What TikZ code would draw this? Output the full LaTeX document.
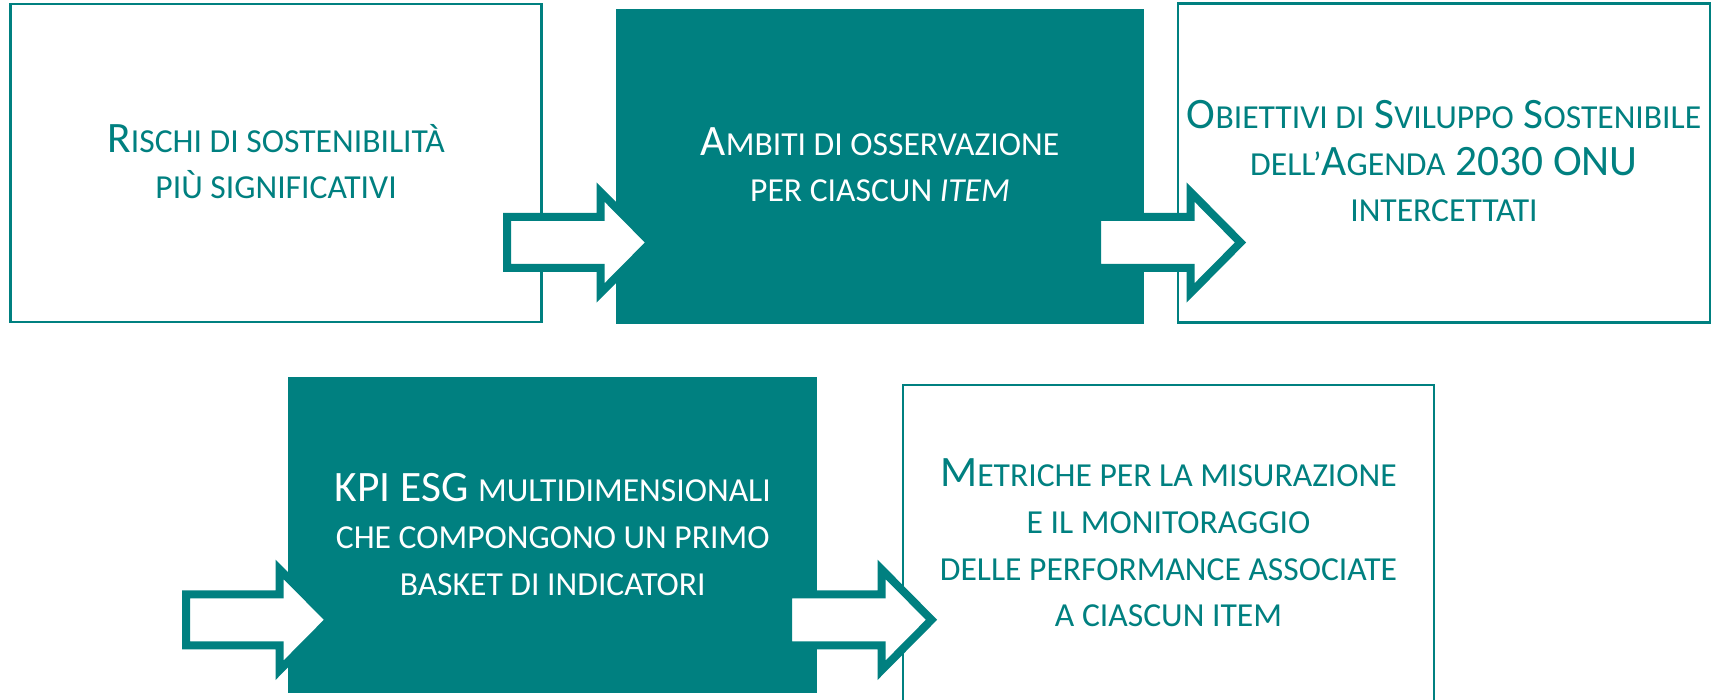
\documentclass[tikz,border=0pt]{standalone}
\usepackage{fontspec}
\setmainfont{Carlito}
\definecolor{tealc}{RGB}{0,128,128}
\newcommand\smc[1]{{\fontsize{16.8}{23}\selectfont #1}}
\newcommand\bigf{\fontsize{21.7}{23.3}\selectfont}
\tikzset{
  outbox/.style={draw=tealc, line width=1.25pt, fill=white, rectangle, inner sep=0pt, outer sep=0pt},
  fullbox/.style={fill=tealc, rectangle, inner sep=0pt, outer sep=0pt},
  txt/.style={align=center, inner sep=0pt, anchor=base, font=\bigf},
  barrow/.style={draw=tealc, fill=white, line width=4pt, line join=miter},
  blockarrow/.pic={\draw[barrow] (0,-25.5) -- (93.5,-25.5) -- (93.5,-50.5) -- (143.5,0) -- (93.5,50.5) -- (93.5,25.5) -- (0,25.5) -- cycle;}
}
\begin{document}
\begin{tikzpicture}[x=0.5pt,y=-0.5pt]
\useasboundingbox (0,0) rectangle (1715,700);
\fill[white] (0,0) rectangle (1715,700);
\clip (0,0) rectangle (1715,700);
% boxes
\node[outbox, minimum width=265.6pt, minimum height=159pt] (b1) at (276.1,163) {};
\node[fullbox, minimum width=264.3pt, minimum height=157.65pt] (b2) at (880,166.7) {};
\node[outbox, minimum width=266pt, minimum height=159.4pt] (b3) at (1444,162.9) {};
\node[fullbox, minimum width=264.35pt, minimum height=157.7pt] (b4) at (552.7,535) {};
\node[outbox, minimum width=265.5pt, minimum height=159.4pt] (b5) at (1168.5,544.4) {};
% arrows
\pic (a1) at (507,242.5) {blockarrow};
\pic (a2) at (1097,242.5) {blockarrow};
\pic (a3) at (186,619.8) {blockarrow};
\pic (a4) at (788,619.8) {blockarrow};
% texts (anchor = baseline of last line)
\node[txt, text=tealc] (t1) at (276.1,199) {R\smc{ISCHI DI SOSTENIBILITÀ}\\\smc{PIÙ SIGNIFICATIVI}};
\node[txt, text=white] (t2) at (880,202) {A\smc{MBITI DI OSSERVAZIONE}\\\smc{PER CIASCUN \textit{ITEM}}};
\node[txt, text=tealc] (t3) at (1444,221.7) {O\smc{BIETTIVI DI} S\smc{VILUPPO} S\smc{OSTENIBILE}\\\smc{DELL’}A\smc{GENDA} 2030 ONU\\\smc{INTERCETTATI}};
\node[txt, text=white] (t4) at (552.7,595) {KPI ESG \smc{MULTIDIMENSIONALI}\\\smc{CHE COMPONGONO UN PRIMO}\\\smc{BASKET DI INDICATORI}};
\node[txt, text=tealc] (t5) at (1168.5,626.7) {M\smc{ETRICHE PER LA MISURAZIONE}\\\smc{E IL MONITORAGGIO}\\\smc{DELLE PERFORMANCE ASSOCIATE}\\\smc{A CIASCUN ITEM}};
\end{tikzpicture}
\end{document}
